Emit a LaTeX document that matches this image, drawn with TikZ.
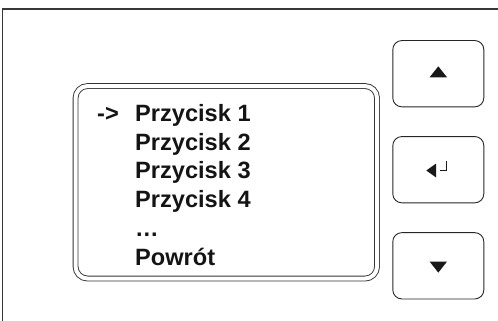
\documentclass[tikz,border=0pt]{standalone}
\usepackage{fontspec}
\setmainfont{Liberation Sans}
\begin{document}
\begin{tikzpicture}[x=1pt,y=-1pt,
  frameline/.style={draw=black!78,line width=1.4pt},
  screenbox/.style={draw=black!80,line width=0.9pt,double=white,double distance=4pt,
    rounded corners=12pt,inner sep=0pt,minimum width=301.5pt,minimum height=192.5pt},
  keybox/.style={draw=black!85,line width=0.9pt,rounded corners=9pt,inner sep=0pt,
    minimum width=91pt,minimum height=66.3pt},
  menuline/.style={anchor=base west,inner sep=0pt,font=\fontsize{23.6}{28}\selectfont\bfseries,text=black!92},
  glyph/.style={fill=black!90,draw=none}]

% canvas and the housing outline (only its top and left edges are in view)
\clip (0,0) rectangle (498,321);
\draw[frameline] (2.7,9) rectangle (530,345);

% display with double rounded border
\node[screenbox] (screen) at (226.3,182.3) {};

% menu entries
\node[menuline] (cursor) at (97,121.5) {->};
\node[menuline] (l1) at (135,121.5) {Przycisk 1};
\node[menuline] (l2) at (135,150.2) {Przycisk 2};
\node[menuline] (l3) at (135,178.9) {Przycisk 3};
\node[menuline] (l4) at (135,207.6) {Przycisk 4};
\node[menuline] (l5) at (135,236.3) {…};
\node[menuline] (l6) at (135,265) {Powrót};

% keys
\node[keybox] (btnup) at (438.3,73.7) {};
\node[keybox] (btnenter) at (438.3,169.7) {};
\node[keybox] (btndown) at (438.3,265.8) {};

% key symbols
\begin{scope}[shift={(btnup.center)}]
  \fill[glyph] (-8.7,3.6) -- (8.7,3.6) -- (0,-7.4) -- cycle;
\end{scope}
\begin{scope}[shift={(btndown.center)}]
  \fill[glyph] (-8.7,-4.2) -- (8.7,-4.2) -- (0,6.8) -- cycle;
\end{scope}
\begin{scope}[shift={(btnenter.center)}]
  \fill[glyph] (-12,0.8) -- (-2.2,-6.2) -- (-2.2,7.8) -- cycle;
  \draw[black!90,line width=1.5pt] (1.6,0.8) -- (8.3,0.8) -- (8.3,-8.4);
\end{scope}
\end{tikzpicture}
\end{document}
